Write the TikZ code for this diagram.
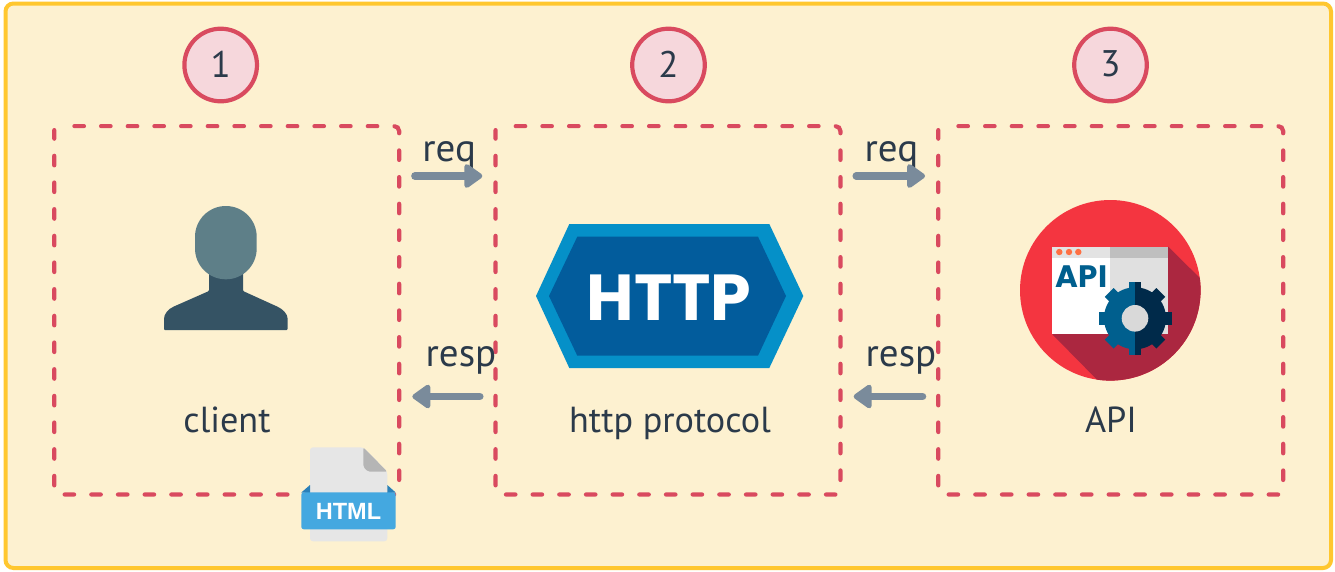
\documentclass[tikz,border=0pt]{standalone}
\usepackage{fontspec}
\setmainfont{PT Sans}
\newfontfamily\iconfont{Poppins}
\newfontfamily\htmlfont{Liberation Sans}
\usetikzlibrary{arrows.meta}
\definecolor{panelfill}{HTML}{FDF1D0}
\definecolor{panelline}{HTML}{FFC72F}
\definecolor{dashred}{HTML}{D94A5F}
\definecolor{badgefill}{HTML}{F6D7DC}
\definecolor{inkc}{HTML}{2B3A4A}
\definecolor{flowc}{HTML}{7A8B9B}
\definecolor{headc}{HTML}{5E7F88}
\definecolor{bodyc}{HTML}{355364}
\definecolor{paperc}{HTML}{E6E6E6}
\definecolor{foldc}{HTML}{B5B5B5}
\definecolor{bandc}{HTML}{44A8E0}
\definecolor{banddark}{HTML}{2A80B9}
\definecolor{hexout}{HTML}{0590C8}
\definecolor{hexin}{HTML}{025C9C}
\definecolor{apired}{HTML}{F43540}
\definecolor{apishade}{HTML}{AB2740}
\definecolor{gearl}{HTML}{005F8E}
\definecolor{gearr}{HTML}{002A4A}
\definecolor{dotc}{HTML}{FF7043}
\tikzset{
  zone/.style={minimum width=344.5pt,minimum height=368pt,inner sep=0pt},
  zoneline/.style={draw=dashred,line width=4.2pt,line cap=round,dash pattern=on 9.5pt off 17.17pt,dash phase=11.5pt,rounded corners=5pt},
  badge/.style={circle,draw=dashred,fill=badgefill,line width=4.2pt,minimum size=72.6pt,inner sep=0pt,text=inkc,font=\fontsize{37}{40}\selectfont},
  lbl/.style={text=inkc,inner sep=0pt,anchor=base,font=\fontsize{36.2}{40}\selectfont},
  flowlbl/.style={text=inkc,inner sep=0pt,anchor=base,font=\fontsize{39}{42}\selectfont},
  flow/.style={draw=flowc,line width=7.5pt,line cap=round,shorten <=15.75pt,shorten >=13.2pt,-{Triangle[length=20pt,width=27pt,round]}},
}
\newcommand{\zonepath}[1]{\draw[zoneline] ([xshift=5pt]#1.north west) -- (#1.north east) -- (#1.south east) -- (#1.south west) -- ([yshift=-4pt]#1.north west);}
\begin{document}
\begin{tikzpicture}[x=1pt,y=-1pt]
\useasboundingbox (0,0) rectangle (1335,571);
\fill[white] (0,0) rectangle (1335,571);
\draw[panelline,fill=panelfill,line width=4pt,rounded corners=8pt] (5.5,3.5) rectangle (1331,568);
\node[badge] (b1) at (220.7,65) {\raisebox{2pt}{1}};
\node[badge] (b2) at (668.5,65) {\raisebox{2pt}{2}};
\node[badge] (b3) at (1110.5,65) {\raisebox{2pt}{3}};
\node[zone] (z1) at (226.7,310.3) {};
\node[zone] (z2) at (668,310.3) {};
\node[zone] (z3) at (1110.7,310.3) {};
\zonepath{z1}
\zonepath{z2}
\zonepath{z3}
\coordinate (reqrow) at (0,176);
\coordinate (resprow) at (0,396.5);
\node[flowlbl] (req1) at (449.2,161) {req};
\node[flowlbl] (req2) at (891.5,161) {req};
\node[flowlbl] (resp1) at (461,366) {resp};
\node[flowlbl] (resp2) at (901,366) {resp};
\draw[flow] (z1.east |- reqrow) -- (z2.west |- reqrow);
\draw[flow] (z2.east |- reqrow) -- (z3.west |- reqrow);
\draw[flow] (z2.west |- resprow) -- (z1.east |- resprow);
\draw[flow] (z3.west |- resprow) -- (z2.east |- resprow);
\node[lbl] (cl) at (227,432) {client};
\node[lbl] (hp) at (670,432) {http protocol};
\node[lbl] (ap) at (1111,432) {API};
% person
\fill[bodyc,rounded corners=1pt] (209,270) -- (243,270) -- (243,291) -- (276,306) .. controls (283,309) and (287.7,314) .. (287.7,320) -- (287.7,330) -- (164,330) -- (164,320) .. controls (164,314) and (168,309) .. (175,306) -- (209,291) -- cycle;
\fill[headc,rounded corners=30.8pt] (195,206) rectangle (256.7,279.3);
% html file
\fill[paperc,rounded corners=3pt] (310,447.3) -- (363.3,447.3) -- (387.3,471.7) -- (387.3,541.3) -- (310,541.3) -- cycle;
\fill[foldc,rounded corners=2pt] (363.3,447.3) -- (387.3,471.7) -- (368,471.7) -- (363.3,467) -- cycle;
\fill[banddark] (301.3,492.5) -- (310,485) -- (310,493) -- cycle;
\fill[banddark] (395.7,492.5) -- (387.3,485) -- (387.3,493) -- cycle;
\fill[bandc,rounded corners=2.5pt] (301.3,492.3) rectangle (395.7,529.3);
\node[text=white,inner sep=0pt,font=\htmlfont\bfseries\fontsize{23.5}{24}\selectfont] (ht) at (348.5,511) {HTML};
% http hexagon
\fill[hexout] (569.3,224) -- (769.3,224) -- (803.3,296) -- (769.3,368) -- (569.3,368) -- (536,296) -- cycle;
\fill[hexin] (577.3,236.7) -- (758,236.7) -- (786,296) -- (758,355.7) -- (577.3,355.7) -- (549,296) -- cycle;
\node[text=white,inner sep=0pt,font=\iconfont\bfseries\fontsize{65}{65}\selectfont] (hh) at (669,297.3) {HTTP};
% api icon
\fill[apired] (1110.3,290.3) circle (90.3);
\begin{scope}
\clip (1110.3,290.3) circle (90.3);
\fill[apishade] (1168.3,246.7) -- (1230,308) -- (1230,400) -- (1117,400) -- (1052.3,334.3) -- cycle;
\end{scope}
\fill[white] (1052.3,246.7) rectangle (1110.3,334.3);
\fill[black!12] (1110.3,246.7) rectangle (1168.3,334.3);
\fill[black!11] (1052.3,246.7) rectangle (1110.3,257.7);
\fill[black!25] (1110.3,246.7) rectangle (1168.3,257.7);
\foreach \px in {1059.3,1069,1078.3} \fill[dotc] (\px,252) circle (3.2);
\node[text=gearl,inner sep=0pt,anchor=center,font=\iconfont\bfseries\fontsize{31}{31}\selectfont] (aa) at (1081.5,276.5) {API};
\begin{scope}
\clip (1090,270) rectangle (1135,370);
\fill[gearl] (1135,318.3) circle (31);
\foreach \a in {0,45,...,315} \fill[gearl,rotate around={\a:(1135,318.3)}] (1128.7,281.8) rectangle (1141.3,300);
\end{scope}
\begin{scope}
\clip (1135,270) rectangle (1180,370);
\fill[gearr] (1135,318.3) circle (31);
\foreach \a in {0,45,...,315} \fill[gearr,rotate around={\a:(1135,318.3)}] (1128.7,281.8) rectangle (1141.3,300);
\end{scope}
\fill[black!15] (1135,318.3) circle (13.3);
\end{tikzpicture}
\end{document}
